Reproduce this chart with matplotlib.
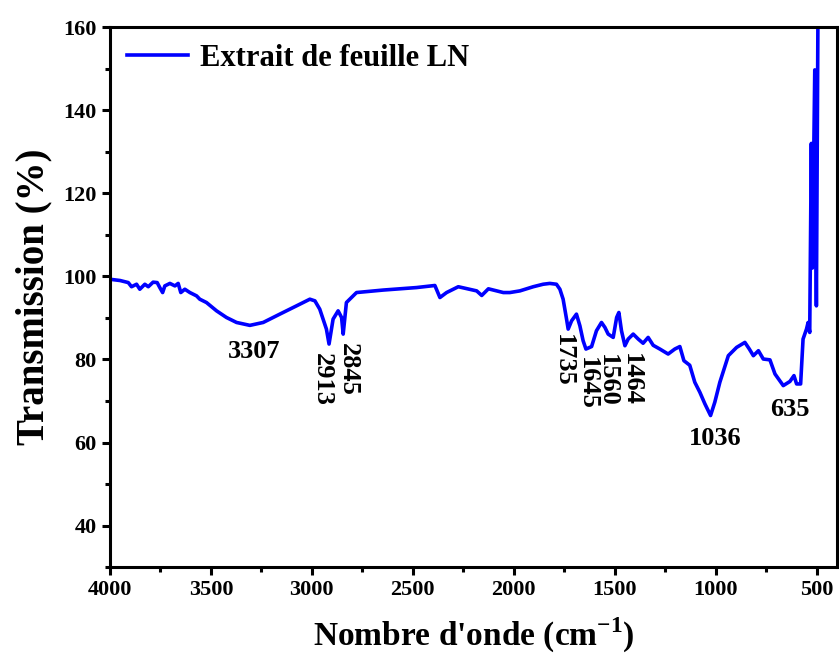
import numpy as np
import matplotlib.pyplot as plt

plt.rcParams['font.family'] = ['Liberation Serif', 'DejaVu Serif']
plt.rcParams['font.weight'] = 'bold'
plt.rcParams['mathtext.fontset'] = 'custom'
plt.rcParams['mathtext.rm'] = 'Liberation Serif:bold'
plt.rcParams['mathtext.bf'] = 'Liberation Serif:bold'

#---------spectre IR---------#
wavenumber = [4000, 3950, 3909, 3893, 3868, 3852, 3827, 3810, 3786, 3766,
              3753, 3739, 3728, 3703, 3678, 3662, 3649, 3629, 3604, 3571,
              3555, 3522, 3472, 3423, 3373, 3307, 3241, 3159, 3076, 3010,
              2985, 2961, 2928, 2915, 2895, 2870, 2853, 2845, 2829, 2779,
              2647, 2482, 2391, 2366, 2333, 2275, 2184, 2159, 2126, 2052,
              2020, 1970, 1904, 1855, 1822, 1789, 1772, 1756, 1739, 1731,
              1714, 1690, 1673, 1657, 1643, 1615, 1591, 1566, 1549, 1533,
              1508, 1491, 1480, 1467, 1450, 1434, 1409, 1384, 1360, 1335,
              1310, 1277, 1236, 1203, 1178, 1158, 1129, 1104, 1079, 1054,
              1026, 1005, 980, 938, 897, 856, 834, 814, 789, 765,
              732, 707, 666, 633, 613, 600, 580, 568, 551, 543,
              535, 527, 522, 510, 502, 494]
transmission = [99.3, 99.0, 98.5, 97.5, 98.1, 96.9, 98.1, 97.5, 98.6, 98.5,
                97.3, 96.1, 97.7, 98.3, 97.7, 98.3, 96.1, 96.9, 96.1, 95.3,
                94.5, 93.7, 91.7, 90.1, 88.9, 88.2, 88.9, 90.9, 92.9, 94.5,
                94.1, 92.1, 87.3, 83.7, 89.7, 91.7, 90.1, 86.1, 93.7, 96.1,
                96.7, 97.3, 97.8, 94.9, 96.1, 97.5, 96.5, 95.4, 97.0, 96.1,
                96.1, 96.5, 97.5, 98.1, 98.3, 98.1, 96.9, 94.5, 89.7, 87.3,
                89.3, 90.9, 88.1, 84.5, 82.5, 83.1, 86.9, 88.9, 87.7, 86.1,
                85.3, 90.1, 91.3, 86.9, 83.3, 84.9, 86.1, 84.9, 83.9, 85.3,
                83.4, 82.5, 81.3, 82.5, 83.1, 79.7, 78.6, 74.5, 72.1, 69.3,
                66.5, 69.7, 74.5, 80.9, 82.9, 84.1, 82.5, 80.9, 82.1, 80.1,
                79.9, 76.5, 73.7, 74.7, 76.1, 74.1, 74.1, 84.9, 87.3, 88.9,
                86.5, 132.0, 102.0, 149.7, 92.9, 165.0]

peak_pos = [3287, 2950, 2817, 1757, 1638, 1535, 1416, 1005, 634]
peak_y = [82.0, 75.3, 77.7, 79.8, 74.3, 75.0, 75.3, 60.9, 68.0]
peak_txt = ['3307', '2913', '2845', '1735', '1645', '1560', '1464', '1036', '635']
peak_rot = [0, -90, -90, -90, -90, -90, -90, 0, 0]

fig = plt.figure(figsize=(8.39, 6.61), dpi=100)
ax = fig.add_axes([0.131, 0.142, 0.8666, 0.817])
ax.plot(wavenumber, transmission, color='#0000ff', lw=2.6, label='Extrait de feuille LN')

for xx, yy, t, r in zip(peak_pos, peak_y, peak_txt, peak_rot):
    ax.text(xx, yy, t, rotation=r, ha='center', va='center', fontsize=19, fontweight='bold')

ax.set_xlim(4000, 400)
ax.set_ylim(30, 160)
ax.set_xticks([4000, 3500, 3000, 2500, 2000, 1500, 1000, 500])
ax.set_xticks(np.arange(3750, 400, -500), minor=True)
ax.set_yticks([40, 60, 80, 100, 120, 140, 160])
ax.set_yticks(np.arange(30, 161, 10), minor=True)
ax.tick_params(which='major', direction='out', length=6, width=2.2, labelsize=16)
ax.tick_params(which='minor', direction='out', length=3.5, width=2.2)
for s in ax.spines.values():
    s.set_linewidth(2.2)

ax.set_xlabel(r"Nombre d'onde (cm$^{\mathbf{-1}}$)", fontsize=24, fontweight='bold', labelpad=11)
ax.set_ylabel('Transmission (%)', fontsize=28, fontweight='bold', labelpad=8)
ax.legend(loc='upper left', frameon=False, fontsize=22, handlelength=2.0,
          borderaxespad=0.15, handletextpad=0.4)

plt.savefig('out.png', dpi=100)
